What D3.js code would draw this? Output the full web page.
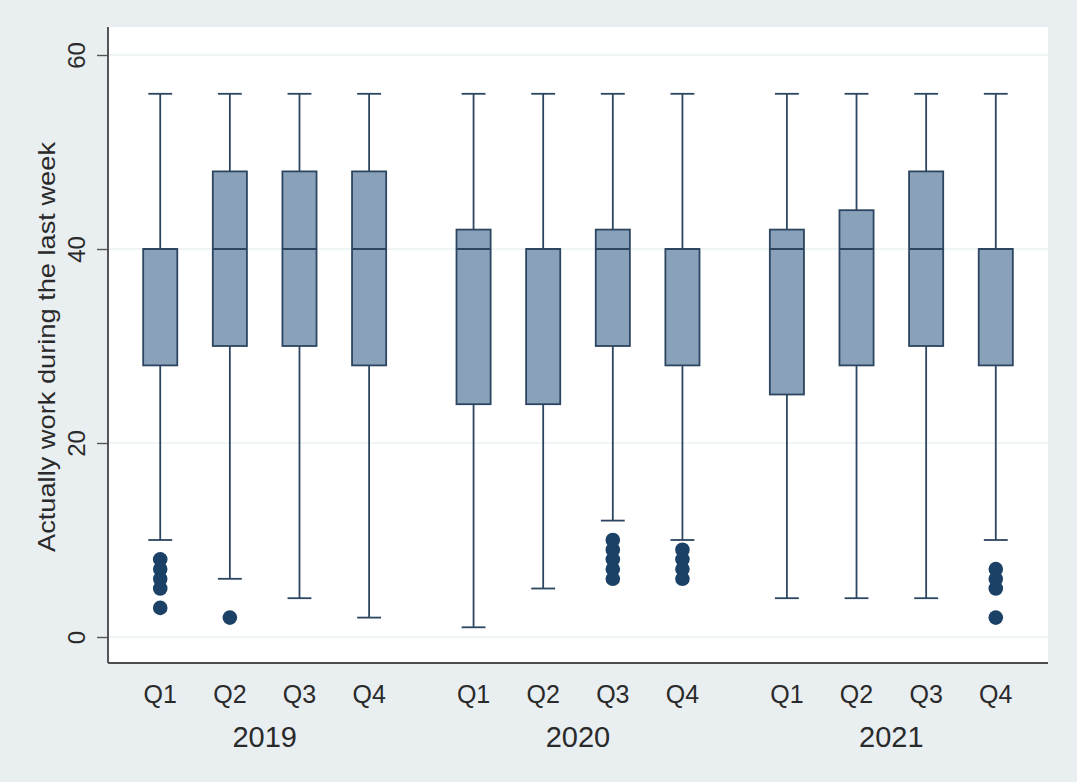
<!DOCTYPE html>
<html>
<head>
<meta charset="utf-8">
<script src="https://cdn.jsdelivr.net/npm/d3@7"></script>
<style>
  html, body { margin: 0; padding: 0; background: #e9eef1; }
  svg { display: block; }
</style>
</head>
<body>
<svg id="chart" width="1077" height="782"></svg>
<script>
// ---- data ----
const years = ["2019", "2020", "2021"];
const quarters = ["Q1", "Q2", "Q3", "Q4"];
const whiskerLow  = [10, 6, 4, 2,   1, 5, 12, 10,   4, 4, 4, 10];
const boxLow      = [28, 30, 30, 28, 24, 24, 30, 28, 25, 28, 30, 28];
const medians     = [40, 40, 40, 40, 40, 40, 40, 40, 40, 40, 40, 40];
const boxHigh     = [40, 48, 48, 48, 42, 40, 42, 40, 42, 44, 48, 40];
const whiskerHigh = [56, 56, 56, 56, 56, 56, 56, 56, 56, 56, 56, 56];
const outliers    = [[8, 7, 6, 5, 3], [2], [], [], [], [], [10, 9, 8, 7, 6], [9, 8, 7, 6], [], [], [], [7, 6, 5, 2]];
const yTicks = [0, 20, 40, 60];
const yTitle = "Actually work during the last week";

// ---- layout ----
const svg = d3.select("#chart");
const W = 1077, H = 782;
const plot = { left: 108, right: 1048, top: 27, bottom: 663 };
const navy = "#1b4166";
const lineCol = "#2c4560";
const boxFill = "#8aa1ba";
const textCol = "#2a2a2a";
const font = "'Liberation Sans', Arial, sans-serif";

svg.append("rect").attr("width", W).attr("height", H).attr("fill", "#e9eef1");
svg.append("rect")
  .attr("x", plot.left).attr("y", plot.top)
  .attr("width", plot.right - plot.left).attr("height", plot.bottom - plot.top)
  .attr("fill", "#ffffff");

const y = d3.scaleLinear().domain([0, 60]).range([637, 55]);

const xYear = d3.scaleBand().domain(years)
  .range([plot.left, plot.right])
  .paddingInner(0.5 / 4.5)
  .paddingOuter(0.25 / 4.5);

const xQ = d3.scaleBand().domain(quarters)
  .range([0, xYear.bandwidth()])
  .paddingInner(0.51)
  .paddingOuter(0.255);

// gridlines
svg.append("g").selectAll("line").data(yTicks).join("line")
  .attr("x1", plot.left).attr("x2", plot.right)
  .attr("y1", d => y(d)).attr("y2", d => y(d))
  .attr("stroke", "#eaf0f3").attr("stroke-width", 1.6);

// y axis
const yAxisG = svg.append("g")
  .attr("transform", `translate(${plot.left},0)`)
  .call(d3.axisLeft(y).tickValues(yTicks).tickSize(11).tickPadding(0));
yAxisG.select(".domain").remove();
yAxisG.selectAll(".tick line").attr("stroke", "#555").attr("stroke-width", 1.4);
yAxisG.selectAll(".tick text")
  .attr("transform", "rotate(-90)")
  .attr("x", 0).attr("y", -23).attr("dy", 0)
  .attr("text-anchor", "middle")
  .attr("fill", textCol)
  .style("font-family", font)
  .style("font-size", "24px");

// axis lines
svg.append("line")
  .attr("x1", plot.left).attr("x2", plot.left)
  .attr("y1", plot.top).attr("y2", plot.bottom)
  .attr("stroke", "#4d4d4d").attr("stroke-width", 1.9);
svg.append("line")
  .attr("x1", plot.left).attr("x2", plot.right)
  .attr("y1", plot.bottom).attr("y2", plot.bottom)
  .attr("stroke", "#4d4d4d").attr("stroke-width", 1.9);

// y title
svg.append("text")
  .attr("transform", `translate(55,${(plot.top + plot.bottom) / 2 + 2}) rotate(-90)`)
  .attr("text-anchor", "middle")
  .attr("fill", textCol)
  .attr("textLength", 410)
  .attr("lengthAdjust", "spacingAndGlyphs")
  .style("font-family", font)
  .style("font-size", "24px")
  .text(yTitle);

// build records
const recs = [];
years.forEach((yr, i) => quarters.forEach((q, j) => {
  const k = i * 4 + j;
  recs.push({ yr, q, lo: whiskerLow[k], q1: boxLow[k], med: medians[k], q3: boxHigh[k], hi: whiskerHigh[k], out: outliers[k] });
}));

const bw = xQ.bandwidth();
const capW = bw * 0.7;
const sw = 1.8;
const groups = svg.append("g").selectAll("g.box").data(recs).join("g")
  .attr("class", "box")
  .attr("transform", d => `translate(${xYear(d.yr) + xQ(d.q) + bw / 2},0)`);

// whiskers
groups.append("line")
  .attr("x1", 0).attr("x2", 0)
  .attr("y1", d => y(d.hi)).attr("y2", d => y(d.q3))
  .attr("stroke", lineCol).attr("stroke-width", sw);
groups.append("line")
  .attr("x1", 0).attr("x2", 0)
  .attr("y1", d => y(d.q1)).attr("y2", d => y(d.lo))
  .attr("stroke", lineCol).attr("stroke-width", sw);
groups.append("line")
  .attr("x1", -capW / 2).attr("x2", capW / 2)
  .attr("y1", d => y(d.hi)).attr("y2", d => y(d.hi))
  .attr("stroke", lineCol).attr("stroke-width", sw);
groups.append("line")
  .attr("x1", -capW / 2).attr("x2", capW / 2)
  .attr("y1", d => y(d.lo)).attr("y2", d => y(d.lo))
  .attr("stroke", lineCol).attr("stroke-width", sw);

// boxes
groups.append("rect")
  .attr("x", -bw / 2).attr("width", bw)
  .attr("y", d => y(d.q3)).attr("height", d => y(d.q1) - y(d.q3))
  .attr("fill", boxFill).attr("stroke", lineCol).attr("stroke-width", sw);
groups.append("line")
  .attr("x1", -bw / 2).attr("x2", bw / 2)
  .attr("y1", d => y(d.med)).attr("y2", d => y(d.med))
  .attr("stroke", lineCol).attr("stroke-width", sw);

// outliers
groups.selectAll("circle").data(d => d.out).join("circle")
  .attr("cx", 0).attr("cy", v => y(v)).attr("r", 7.3)
  .attr("fill", navy);

// x labels
years.forEach(yr => {
  const g = svg.append("g").attr("transform", `translate(${xYear(yr)},${plot.bottom})`)
    .call(d3.axisBottom(xQ).tickSize(0).tickPadding(0));
  g.select(".domain").remove();
  g.selectAll(".tick text")
    .attr("y", 40).attr("dy", 0)
    .attr("fill", textCol)
    .style("font-family", font)
    .style("font-size", "25px");
});
svg.append("g").selectAll("text").data(years).join("text")
  .attr("x", d => xYear(d) + xYear.bandwidth() / 2)
  .attr("y", 747)
  .attr("text-anchor", "middle")
  .attr("fill", textCol)
  .style("font-family", font)
  .style("font-size", "29px")
  .text(d => d);
</script>
</body>
</html>
